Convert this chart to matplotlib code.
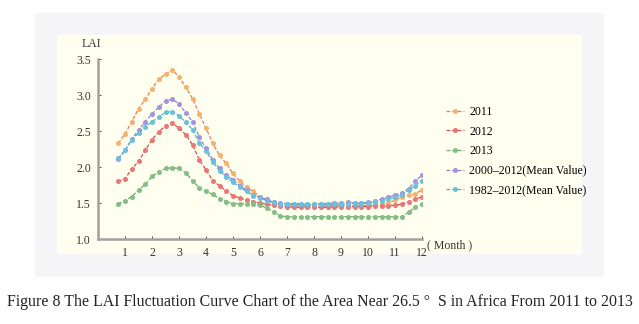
import matplotlib.pyplot as plt
from matplotlib.patches import Rectangle

plt.rcParams['font.family'] = ['Liberation Serif', 'DejaVu Serif']

# 46 eight-day composites, plotted at quarter-month steps from 0.75 to 12
months = [0.75 + 0.25 * i for i in range(46)]

lai_2011 = [2.33, 2.46, 2.63, 2.81, 2.94, 3.09, 3.22, 3.29, 3.35, 3.25, 3.11, 2.95,
            2.74, 2.54, 2.33, 2.16, 2.05, 1.91, 1.80, 1.72, 1.66, 1.59, 1.54, 1.50,
            1.47, 1.46, 1.46, 1.46, 1.46, 1.46, 1.46, 1.46, 1.46, 1.47, 1.46, 1.46,
            1.46, 1.47, 1.47, 1.48, 1.50, 1.54, 1.58, 1.61, 1.63, 1.68]
lai_2012 = [1.80, 1.84, 1.97, 2.08, 2.23, 2.38, 2.49, 2.57, 2.61, 2.54, 2.45, 2.31,
            2.10, 1.96, 1.81, 1.74, 1.67, 1.60, 1.57, 1.54, 1.52, 1.50, 1.48, 1.47,
            1.46, 1.45, 1.44, 1.44, 1.45, 1.44, 1.44, 1.44, 1.45, 1.44, 1.45, 1.45,
            1.45, 1.45, 1.46, 1.46, 1.46, 1.47, 1.48, 1.52, 1.55, 1.59]
lai_2013 = [1.49, 1.53, 1.59, 1.68, 1.76, 1.87, 1.93, 1.98, 1.99, 1.98, 1.92, 1.81,
            1.71, 1.66, 1.62, 1.56, 1.52, 1.49, 1.49, 1.49, 1.49, 1.47, 1.43, 1.38,
            1.32, 1.31, 1.31, 1.31, 1.31, 1.31, 1.31, 1.31, 1.31, 1.31, 1.31, 1.31,
            1.31, 1.31, 1.31, 1.31, 1.31, 1.31, 1.31, 1.37, 1.44, 1.48]
lai_2000_2012 = [2.11, 2.23, 2.39, 2.51, 2.63, 2.74, 2.83, 2.92, 2.94, 2.88, 2.75, 2.63,
                 2.42, 2.26, 2.10, 1.98, 1.89, 1.82, 1.74, 1.68, 1.61, 1.58, 1.55, 1.52,
                 1.50, 1.49, 1.49, 1.49, 1.49, 1.49, 1.49, 1.49, 1.50, 1.50, 1.51, 1.50,
                 1.50, 1.51, 1.53, 1.55, 1.58, 1.61, 1.64, 1.70, 1.80, 1.89]
lai_1982_2012 = [2.12, 2.23, 2.38, 2.47, 2.56, 2.63, 2.69, 2.76, 2.77, 2.71, 2.62, 2.52,
                 2.34, 2.22, 2.07, 1.95, 1.86, 1.79, 1.72, 1.66, 1.60, 1.57, 1.53, 1.51,
                 1.49, 1.48, 1.48, 1.48, 1.48, 1.48, 1.48, 1.48, 1.48, 1.49, 1.49, 1.49,
                 1.49, 1.50, 1.51, 1.53, 1.55, 1.58, 1.61, 1.68, 1.74, 1.81]

series = [
    ("2011", lai_2011, "#f07a5a", "#f6b26b"),
    ("2012", lai_2012, "#dd4a4a", "#e87878"),
    ("2013", lai_2013, "#6aac6a", "#86bd86"),
    ("2000\u20132012(Mean Value)", lai_2000_2012, "#8f83cf", "#a395dc"),
    ("1982\u20132012(Mean Value)", lai_1982_2012, "#4fb0d0", "#6cc0dc"),
]

fig = plt.figure(figsize=(6.39, 3.24), dpi=100)
fig.patch.set_facecolor("white")
W, H = 639.0, 324.0
fig.patches.append(Rectangle((35 / W, 1 - 277 / H), 569 / W, 264 / H,
                             transform=fig.transFigure, facecolor="#f5f5f7",
                             edgecolor="none", zorder=-2))
fig.patches.append(Rectangle((57 / W, 1 - 254 / H), 525 / W, 219 / H,
                             transform=fig.transFigure, facecolor="#fffff0",
                             edgecolor="none", zorder=-1))

ax = fig.add_axes([98 / W, 1 - 239 / H, 324 / W, 180 / H])
ax.set_facecolor("none")

for name, vals, lc, mc in series:
    ax.plot(months, vals, linestyle="--", dashes=(3, 1.5), color=lc,
            linewidth=0.9, marker="o", markersize=2.6, markerfacecolor=mc,
            markeredgecolor=mc, label=name)

ax.set_xlim(0, 12)
ax.set_ylim(1.0, 3.5)
ax.set_xticks(range(1, 13))
ax.set_yticks([1.0, 1.5, 2.0, 2.5, 3.0, 3.5])
ax.set_yticklabels(["1.0", "1.5", "2.0", "2.5", "3.0", "3.5"])
ax.tick_params(axis="both", labelsize=8.5, colors="#333333", length=2, width=0.6,
               direction="in")
ax.tick_params(axis="y", pad=5)
ax.tick_params(axis="x", pad=6)
for s in ["top", "right"]:
    ax.spines[s].set_visible(False)
for s in ["left", "bottom"]:
    ax.spines[s].set_color("#a0a0a0")
    ax.spines[s].set_linewidth(1.8)

ax.text(-0.25, 3.62, "LAI", fontsize=8.5, color="#333333", ha="center", va="bottom")
ax.text(12.2, 1.0, "( Month )", fontsize=8.5, color="#333333", ha="left", va="top",
        clip_on=False)

ax.legend(loc="upper left", bbox_to_anchor=(1.06, 0.765), frameon=False,
          fontsize=8.5, handlelength=1.5, handletextpad=0.45, labelspacing=0.64,
          borderaxespad=0)

fig.text(0.5, 1 - 302 / H,
         "Figure 8 The LAI Fluctuation Curve Chart of the Area Near 26.5 \u00b0  S in Africa From 2011 to 2013",
         ha="center", va="center", fontsize=11.4, color="#222222")

fig.savefig("out.png", dpi=100)
